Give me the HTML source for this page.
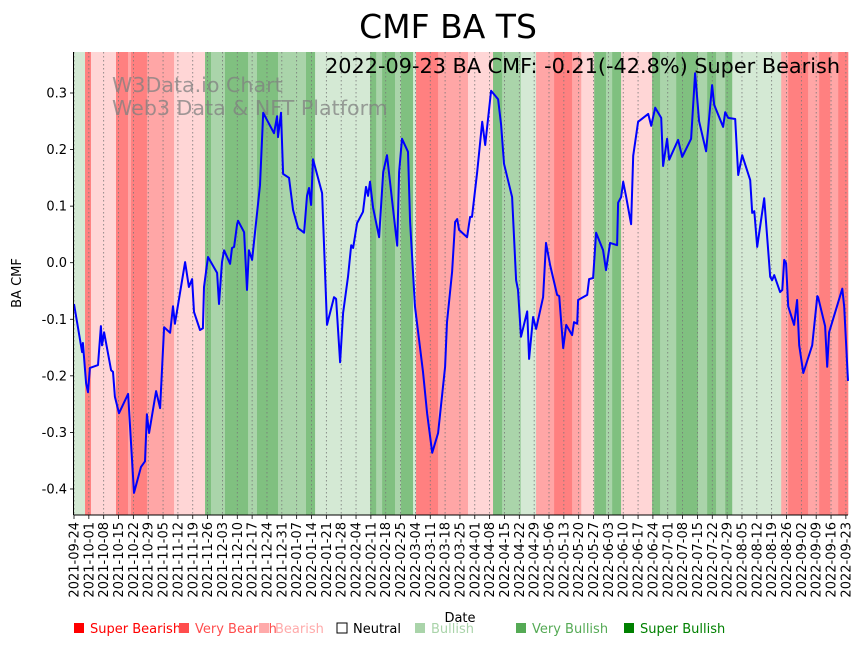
<!DOCTYPE html>
<html><head><meta charset="utf-8"><style>
html,body{margin:0;padding:0;background:#fff;}
svg{display:block;font-family:"DejaVu Sans","Liberation Sans",sans-serif;}
</style></head><body>
<svg id="chart" width="864" height="646" viewBox="0 0 864 646" xmlns="http://www.w3.org/2000/svg">
<text x="448" y="38" font-size="33" text-anchor="middle">CMF BA TS</text>
<g id="bands"></g>
<g id="grid"></g>
<text x="112" y="92" font-size="20.6" fill="#808080" fill-opacity="0.75">W3Data.io Chart</text>
<text x="112" y="115" font-size="20.6" fill="#808080" fill-opacity="0.75">Web3 Data &amp; NFT Platform</text>
<path id="line" fill="none" stroke="#0000ff" stroke-width="2" stroke-linejoin="round"></path>
<text x="840" y="73" font-size="20.8" text-anchor="end">2022-09-23 BA CMF: -0.21(-42.8%) Super Bearish</text>
<g id="axes"></g>
<text x="460" y="622" font-size="13" text-anchor="middle">Date</text>
<text x="21" y="283" font-size="13" text-anchor="middle" transform="rotate(-90 21 283)">BA CMF</text>
<g id="legend"></g>
</svg>
<script>
const days=[0,3.8,4.2,5.7,6.6,7.5,11.3,12.7,13.2,14.2,17.5,18.4,19.3,21.2,25.5,28.3,31.6,33.5,34.4,35.4,38.7,40.6,42.5,45.3,46.7,47.6,52.4,54.2,55.7,56.6,59.4,60.8,61.3,63.2,67.5,68.4,69.8,70.8,73.6,74.5,75.5,76.9,77.4,80.2,81.6,82.5,84,87.7,89.2,94.3,95.8,96.2,97.6,98.6,101.4,103.3,105.7,108.5,109.9,110.8,111.8,112.7,117,119.3,122.6,123.6,125.5,126.9,129.2,130.7,131.6,133.5,136.3,137.7,138.7,139.6,141,143.9,145.8,147.6,152.4,153.3,154.7,157.5,158.5,160.8,164.6,166.5,168.9,171.7,175,175.9,178.3,179.7,180.7,181.6,185.4,186.8,187.7,190.1,192.5,193.9,196.7,200,201.4,202.8,206.6,208.5,209.4,210.8,213.7,214.6,216.5,217.9,221.2,222.6,224.5,227.8,228.8,230.7,232.1,234.9,235.8,237.3,237.7,242,242.9,244.8,246.2,249.5,250.9,252.8,256.1,256.6,258,259,260.4,262.7,263.7,266,270.8,272.2,274.1,276.9,277.8,279.7,280.7,284.9,286.8,291,292.9,294.8,298.1,300.9,301.9,306.1,307.1,308.5,311.8,313.2,315.1,318.9,319.8,320.8,322.2,325.5,328.3,329.2,330.2,333,334,334.9,335.8,336.8,339.6,341,342,343.9,348.1,350.5,350.9,354.2,355.2,356.1,362.3,363.2,365];
const cmf=[-0.073,-0.158,-0.142,-0.213,-0.229,-0.186,-0.181,-0.112,-0.146,-0.123,-0.19,-0.193,-0.237,-0.266,-0.232,-0.407,-0.361,-0.351,-0.268,-0.301,-0.227,-0.257,-0.114,-0.124,-0.077,-0.108,0.001,-0.043,-0.029,-0.087,-0.119,-0.116,-0.043,0.01,-0.018,-0.073,0.001,0.022,-0.002,0.026,0.028,0.068,0.074,0.054,-0.048,0.022,0.005,0.137,0.265,0.229,0.259,0.222,0.265,0.157,0.15,0.093,0.061,0.053,0.118,0.132,0.102,0.183,0.123,-0.11,-0.061,-0.064,-0.176,-0.089,-0.025,0.031,0.026,0.07,0.09,0.134,0.118,0.143,0.098,0.045,0.16,0.19,0.03,0.16,0.219,0.196,0.072,-0.078,-0.193,-0.266,-0.336,-0.301,-0.184,-0.105,-0.016,0.072,0.077,0.058,0.045,0.081,0.081,0.159,0.249,0.208,0.304,0.289,0.244,0.175,0.116,-0.031,-0.048,-0.131,-0.086,-0.17,-0.096,-0.117,-0.061,0.035,-0.004,-0.057,-0.059,-0.151,-0.11,-0.128,-0.105,-0.108,-0.066,-0.057,-0.029,-0.027,0.053,0.022,-0.013,0.035,0.031,0.106,0.116,0.143,0.116,0.068,0.189,0.249,0.263,0.242,0.274,0.256,0.171,0.219,0.182,0.217,0.187,0.219,0.335,0.25,0.197,0.314,0.279,0.24,0.266,0.256,0.254,0.155,0.19,0.146,0.088,0.091,0.028,0.114,-0.025,-0.031,-0.022,-0.052,-0.048,0.005,-0.001,-0.077,-0.11,-0.066,-0.146,-0.195,-0.146,-0.059,-0.061,-0.112,-0.184,-0.123,-0.046,-0.078,-0.209];
const bandStart=[0,5.2,8,19.8,25.5,26.9,34.4,47.2,61.8,64.6,71.2,82.1,86.3,96.2,109.4,113.7,139.6,142.5,145.3,151.4,154.2,159.9,161.3,171.7,185.8,197.6,201.9,210.8,217.9,226.4,234.9,239.2,245.3,250.9,253.8,258,272.6,276.4,284,294.3,298.6,302.8,307.1,310.4,333.5,336.8,346.2,351.4,356.6,360.4];
const bandLevel=[4,0,2,0,1,0,1,2,6,5,6,5,6,5,6,4,6,5,6,5,6,4,0,1,2,6,5,4,1,0,1,2,6,5,6,2,6,5,6,5,6,5,6,4,1,0,1,0,1,0];
const yTicks=[-0.4,-0.3,-0.2,-0.1,0.0,0.1,0.2,0.3];
const legendLabels=["Super Bearish","Very Bearish","Bearish","Neutral","Bullish","Very Bullish","Super Bullish"];
const legendColors=["#ff0000","#ff4d4d","#ffaaaa","#ffffff","#aad4aa","#55aa55","#008000"];
const bandColors=["#ff8080","#ffa6a6","#ffd6d6","#ffffff","#d4e9d4","#aad4aa","#80c080"];

const NS="http://www.w3.org/2000/svg";
const X0=74,X1=848,Y0=52,Y1=515,totalDays=365;
const xs=d=>X0+d*(X1-X0)/totalDays;
const ys=v=>262.7-v*565.7;
function mk(tag,attrs,parent){const e=document.createElementNS(NS,tag);for(const k in attrs)e.setAttribute(k,attrs[k]);parent.appendChild(e);return e;}

const bands=document.getElementById('bands');
for(let i=0;i<bandStart.length;i++){
  const s=bandStart[i],e=i+1<bandStart.length?bandStart[i+1]:totalDays;
  const r=mk('rect',{x:xs(s),y:Y0,width:xs(e)-xs(s)+0.3,height:Y1-Y0,fill:bandColors[bandLevel[i]]},bands);
  
  
}
const grid=document.getElementById('grid'),axes=document.getElementById('axes');
const start=new Date(Date.UTC(2021,8,24));
for(let w=0;w<=52;w++){
  const d=w*7,x=xs(d);
  mk('line',{x1:x,x2:x,y1:Y0,y2:Y1,stroke:'#777','stroke-width':0.8,'stroke-dasharray':'1.5,2.5'},grid);
  mk('line',{x1:x,x2:x,y1:Y1,y2:Y1+4,stroke:'#000','stroke-width':0.8},axes);
  const dt=new Date(start.getTime()+d*86400000);
  const lbl=dt.toISOString().slice(0,10);
  const t=mk('text',{x:x+4.5,y:Y1+7,'font-size':13,'text-anchor':'end',transform:`rotate(-90 ${x+4.5} ${Y1+7})`},axes);
  
  
  t.textContent=lbl;
}
yTicks.forEach(v=>{
  const y=ys(v);
  mk('line',{x1:X0-4,x2:X0,y1:y,y2:y,stroke:'#000','stroke-width':0.8},axes);
  const t=mk('text',{x:X0-7,y:y+4.5,'font-size':13,'text-anchor':'end'},axes);
  
  
  t.textContent=v.toFixed(1);
});
mk('line',{x1:X0-0.5,x2:X0-0.5,y1:Y0,y2:Y1,stroke:'#000','stroke-width':1},axes);
mk('line',{x1:X0-0.5,x2:X1,y1:Y1,y2:Y1,stroke:'#000','stroke-width':1},axes);
let p='';for(let i=0;i<days.length;i++){p+=(i?'L':'M')+xs(days[i]).toFixed(1)+','+ys(cmf[i]).toFixed(1);}
document.getElementById('line').setAttribute('d',p);
const lg=document.getElementById('legend');
const lgX=[74,179,259,337,415,516,624];
legendLabels.forEach((l,i)=>{
  const g=mk('g',{},lg);
  
  
  mk('rect',{x:lgX[i],y:623,width:10,height:10,fill:legendColors[i],stroke:i==3?'#000':'none','stroke-width':1},g);
  const t=mk('text',{x:lgX[i]+16,y:633,'font-size':13,fill:i==3?'#000':legendColors[i]},g);
  t.textContent=l;
});
</script>
</body></html>
